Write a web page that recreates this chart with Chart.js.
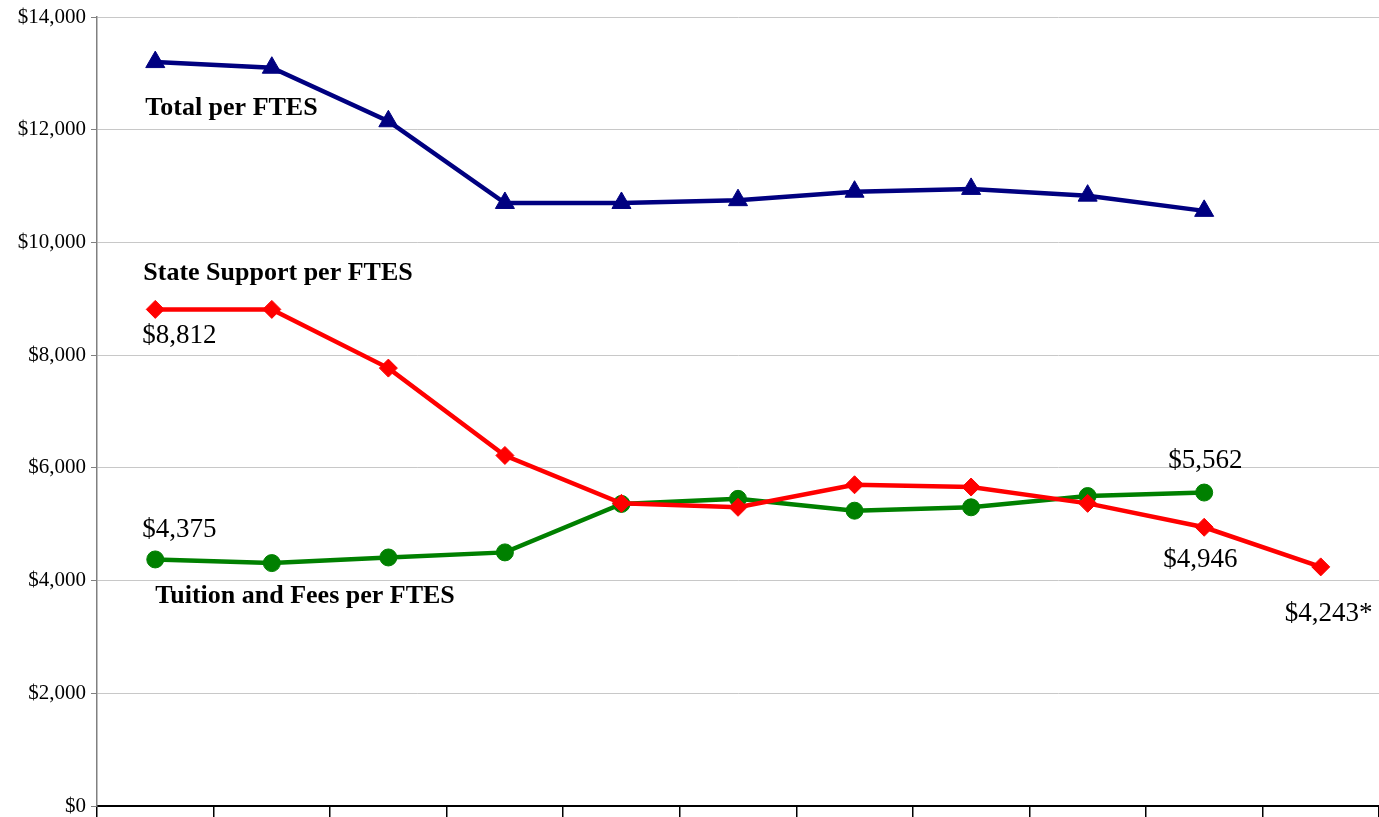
<!DOCTYPE html>
<html>
<head>
<meta charset="utf-8">
<script src="https://cdn.jsdelivr.net/npm/chart.js@4.4.1/dist/chart.umd.min.js"></script>
<style>
  html, body { margin: 0; padding: 0; background: #fff; overflow: hidden; }
  canvas { display: block; }
</style>
</head>
<body>
<canvas id="ftes-chart" width="1379" height="817"></canvas>
<script>
// one entry per year, axis labels are not shown
const years = ['1', '2', '3', '4', '5', '6', '7', '8', '9', '10', '11'];

const totalPerFtes = [13200, 13100, 12150, 10700, 10700, 10750, 10900, 10950, 10830, 10560, null];
const stateSupportPerFtes = [8812, 8812, 7770, 6220, 5370, 5300, 5700, 5660, 5370, 4946, 4243];
const tuitionPerFtes = [4375, 4310, 4410, 4500, 5360, 5450, 5240, 5300, 5500, 5562, null];

const yTicks = [0, 2000, 4000, 6000, 8000, 10000, 12000, 14000];

const seriesNames = ['Total per FTES', 'State Support per FTES', 'Tuition and Fees per FTES'];

// text placed next to a point: dataset, point index, pixel offset from the point
const nameLabels = [
    { ds: 0, i: 0, dx: -10, dy: 53 },
    { ds: 1, i: 0, dx: -12, dy: -29 },
    { ds: 2, i: 0, dx: 0, dy: 44 },
];
const valueLabels = [
    { ds: 1, i: 0, dx: -13, dy: 34, suffix: '' },
    { ds: 2, i: 0, dx: -13, dy: -22, suffix: '' },
    { ds: 2, i: 9, dx: -36, dy: -25, suffix: '' },
    { ds: 1, i: 9, dx: -41, dy: 40, suffix: '' },
    { ds: 1, i: 10, dx: -36, dy: 54, suffix: '*' },
];

function money(v) {
    return '$' + Number(v).toLocaleString('en-US');
}

const labelPlugin = {
    id: 'pointText',
    afterDatasetsDraw(chart) {
        const ctx = chart.ctx;
        const x = chart.scales.x;
        const y = chart.scales.y;
        ctx.save();
        ctx.fillStyle = '#000';
        ctx.textAlign = 'left';
        ctx.textBaseline = 'alphabetic';

        ctx.font = 'bold 26px "Liberation Serif", "Times New Roman", serif';
        nameLabels.forEach((l) => {
            const v = chart.data.datasets[l.ds].data[l.i];
            ctx.fillText(seriesNames[l.ds], x.getPixelForValue(l.i) + l.dx, y.getPixelForValue(v) + l.dy);
        });

        ctx.font = '27px "Liberation Serif", "Times New Roman", serif';
        valueLabels.forEach((l) => {
            const v = chart.data.datasets[l.ds].data[l.i];
            ctx.fillText(money(v) + l.suffix, x.getPixelForValue(l.i) + l.dx, y.getPixelForValue(v) + l.dy);
        });
        ctx.restore();
    }
};

// pin the plot area: 97px left of it for the y labels, 11px below for the tick marks
const plotBox = {
    id: 'plotBox',
    beforeLayout(chart) {
        chart.options.layout.padding = { top: 17, right: 0, bottom: 0, left: 0 };
    },
    afterLayout(chart) {
        const a = chart.chartArea;
        a.left = 97; a.right = 1379; a.top = 17; a.bottom = 806;
        a.width = a.right - a.left; a.height = a.bottom - a.top;
        const x = chart.scales.x;
        const y = chart.scales.y;
        x.left = 97; x.right = 1379; x.width = 1282; x.top = 806; x.bottom = 817; x.height = 11;
        y.left = 0; y.right = 97; y.width = 97; y.top = 17; y.bottom = 806; y.height = 789;
        x.configure();
        y.configure();
    }
};

const ctx = document.getElementById('ftes-chart').getContext('2d');
new Chart(ctx, {
    type: 'line',
    data: {
        labels: years,
        datasets: [
            {
                label: seriesNames[0],
                data: totalPerFtes,
                borderColor: '#000080',
                backgroundColor: '#000080',
                borderWidth: 4.5,
                pointStyle: 'triangle',
                pointRadius: 11,
                pointBorderWidth: 1,
                tension: 0,
            },
            {
                label: seriesNames[1],
                data: stateSupportPerFtes,
                borderColor: '#ff0000',
                backgroundColor: '#ff0000',
                borderWidth: 4.5,
                pointStyle: 'rectRot',
                pointRadius: 9,
                pointBorderWidth: 1,
                tension: 0,
            },
            {
                label: seriesNames[2],
                data: tuitionPerFtes,
                borderColor: '#008000',
                backgroundColor: '#008000',
                borderWidth: 4.5,
                pointStyle: 'circle',
                pointRadius: 8.5,
                pointBorderWidth: 1,
                tension: 0,
            },
        ],
    },
    options: {
        responsive: false,
        animation: false,
        layout: { padding: { top: 17, right: 0, bottom: 0, left: 0 } },
        plugins: {
            legend: { display: false },
            tooltip: { enabled: false },
        },
        scales: {
            x: {
                offset: true,
                grid: {
                    offset: true,
                    drawOnChartArea: false,
                    tickLength: 11,
                    color: '#000',
                    lineWidth: 1.5,
                },
                border: { color: '#000', width: 2 },
                ticks: { display: false },
            },
            y: {
                min: 0,
                max: 14000,
                afterBuildTicks: (scale) => {
                    scale.ticks = yTicks.map((v) => ({ value: v }));
                },
                grid: {
                    color: '#c8c8c8',
                    tickColor: '#808080',
                    tickLength: 6,
                    lineWidth: 1,
                },
                border: { color: '#808080', width: 1.5 },
                ticks: {
                    padding: 5,
                    color: '#000',
                    font: { family: '"Liberation Serif", "Times New Roman", serif', size: 21 },
                    callback: (v) => money(v),
                },
            },
        },
    },
    plugins: [plotBox, labelPlugin],
});
</script>
</body>
</html>
